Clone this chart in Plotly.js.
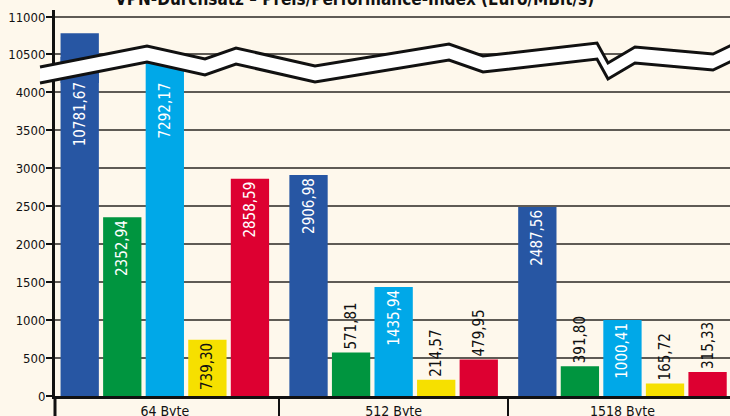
<!DOCTYPE html>
<html><head><meta charset="utf-8">
<script src="https://cdn.plot.ly/plotly-3.0.1.min.js"></script>
<style>html,body{margin:0;padding:0;background:#FEF8EC;overflow:hidden}</style>
</head><body><div id="chart" style="width:730px;height:416px"></div>
<script>
// ---- data ----
const categories = ['64 Byte', '512 Byte', '1518 Byte'];
const seriesNames = ['Produkt A', 'Produkt B', 'Produkt C', 'Produkt D', 'Produkt E'];
const seriesA = [10781.67, 2906.98, 2487.56];
const seriesB = [2352.94, 571.81, 391.80];
const seriesC = [7292.17, 1435.94, 1000.41];
const seriesD = [739.30, 214.57, 165.72];
const seriesE = [2858.59, 479.95, 315.33];
const lowerTicks = [0, 500, 1000, 1500, 2000, 2500, 3000, 3500, 4000];
const upperTicks = [10500, 11000];
const titleText = 'VPN-Durchsatz – Preis/Performance-Index (Euro/MBit/s)';

// ---- styling ----
const colors = ['#2756A3', '#00953F', '#00A8E8', '#F6E000', '#DD0031'];
const insideColors = ['#ffffff', '#ffffff', '#ffffff', '#111111', '#ffffff'];
const FONT = '"DejaVu Sans Condensed", "Liberation Sans Narrow", "Liberation Sans", sans-serif';
const allSeries = [seriesA, seriesB, seriesC, seriesD, seriesE];

// plot area in pixels: left 55, right 730, top 10, bottom 396
const L = 55, W = 675, B = 396, H = 386;
const lowerTopPx = 57, upperBottomPx = 83;
const lowerRange = [0, 4461];
const upperRange = [10108, 11095];
const bargap = 0.07, bargroupgap = 0.1;
const clippedLabelTop = 4150;   // where labels of bars cut by the axis break start
const insideThreshold = 700;

const traces = [];
const annotations = [];
allSeries.forEach((vals, i) => {
  const pos = vals.map(v => v > lowerRange[1] ? 'none' : (v > insideThreshold ? 'inside' : 'outside'));
  traces.push({
    type: 'bar', name: seriesNames[i], x: categories, y: vals,
    xaxis: 'x', yaxis: 'y',
    marker: {color: colors[i], line: {width: 0}},
    texttemplate: '%{y:.2f}', textposition: pos, textangle: -90,
    insidetextanchor: 'end', constraintext: 'none',
    insidetextfont: {family: FONT, size: 15, color: insideColors[i]},
    outsidetextfont: {family: FONT, size: 15, color: '#111111'},
    cliponaxis: true, hoverinfo: 'skip', showlegend: false
  });
  // labels of bars that run into the axis break: kept just below the break
  const slot = (1 - bargap) / allSeries.length;
  vals.forEach((v, k) => {
    if (v > lowerRange[1]) {
      annotations.push({
        xref: 'x', yref: 'y', x: k + (i - (allSeries.length - 1) / 2) * slot, y: clippedLabelTop,
        text: v.toFixed(2).replace('.', ','), showarrow: false, textangle: -90,
        xanchor: 'center', yanchor: 'top',
        font: {family: FONT, size: 15, color: insideColors[i]}
      });
    }
  });
});
allSeries.forEach((vals, i) => {
  traces.push({
    type: 'bar', name: seriesNames[i], x: categories, y: vals,
    xaxis: 'x', yaxis: 'y2',
    marker: {color: colors[i], line: {width: 0}},
    textposition: 'none', cliponaxis: true, hoverinfo: 'skip', showlegend: false
  });
});

function P(px, py) { return ((px - L) / W).toFixed(5) + ',' + ((B - py) / H).toFixed(5); }
const upperLine = [[40,67],[147,46],[205,59],[236,48],[315,66],[449,44],[483,56],[597,43],[608,63],[635,47],[713,54],[734,44]];
const lowerLine = upperLine.map(p => [p[0], p[1] + 16]);
const pathOf = pts => 'M' + pts.map(p => P(p[0], p[1])).join(' L');
const bandPath = pathOf(upperLine.concat(lowerLine.slice().reverse())) + ' Z';

const axisCommon = {
  showline: true, linewidth: 3, linecolor: '#111111',
  ticks: 'outside', ticklen: 6, tickwidth: 2, tickcolor: '#111111',
  gridcolor: '#5f5b55', gridwidth: 1.5, zeroline: false, tickformat: 'd',
  ticklabelstandoff: -2,
  tickfont: {family: FONT, size: 13, color: '#111111'}, fixedrange: true
};

const layout = {
  width: 730, height: 416,
  margin: {l: L, r: 0, t: 10, b: 20, pad: 0},
  paper_bgcolor: '#FEF8EC', plot_bgcolor: 'rgba(0,0,0,0)',
  barmode: 'group', bargap: bargap, bargroupgap: bargroupgap,
  separators: ',.', showlegend: false,
  font: {family: FONT, color: '#111111'},
  title: {text: titleText, font: {family: FONT, size: 17, weight: 'bold', color: '#111111'},
          x: 115 / 730, xanchor: 'left', xref: 'container', y: 1, yref: 'paper', yanchor: 'bottom',
          pad: {b: 5, t: 0, l: 0, r: 0}},
  xaxis: {type: 'category', range: [-0.48, 2.47], anchor: 'y',
          showline: true, linewidth: 3, linecolor: '#111111',
          ticks: 'outside', tickson: 'boundaries', ticklen: 18, tickwidth: 2.5, tickcolor: '#111111',
          ticklabelstandoff: 0, showgrid: false, zeroline: false,
          tickfont: {family: FONT, size: 14, color: '#111111'}, fixedrange: true},
  yaxis: Object.assign({}, axisCommon, {domain: [0, (B - lowerTopPx) / H], range: lowerRange, tickvals: lowerTicks, anchor: 'x'}),
  yaxis2: Object.assign({}, axisCommon, {domain: [(B - upperBottomPx) / H, 1], range: upperRange, tickvals: upperTicks, anchor: 'x'}),
  annotations: annotations,
  shapes: [
    {type: 'path', xref: 'paper', yref: 'paper', path: bandPath, fillcolor: '#ffffff', line: {width: 0}, layer: 'above'},
    {type: 'path', xref: 'paper', yref: 'paper', path: pathOf(upperLine), fillcolor: 'rgba(0,0,0,0)', line: {color: '#111111', width: 3}, layer: 'above'},
    {type: 'path', xref: 'paper', yref: 'paper', path: pathOf(lowerLine), fillcolor: 'rgba(0,0,0,0)', line: {color: '#111111', width: 3}, layer: 'above'},
    {type: 'line', xref: 'paper', yref: 'paper', x0: 0, x1: 0, y0: 0, y1: -20 / H, line: {color: '#111111', width: 3}}
  ]
};

Plotly.newPlot('chart', traces, layout, {staticPlot: true, displayModeBar: false});
</script></body></html>
